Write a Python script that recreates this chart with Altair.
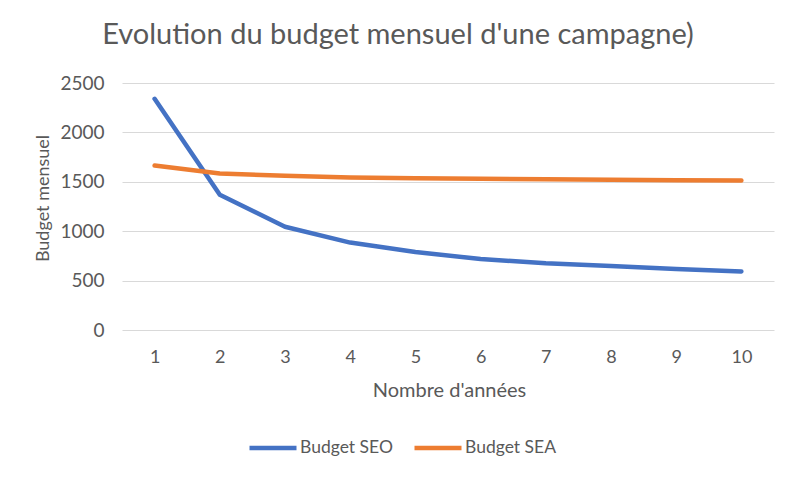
import altair as alt
import pandas as pd

annees = [1, 2, 3, 4, 5, 6, 7, 8, 9, 10]
budget_seo = [2340, 1370, 1045, 885, 790, 718, 675, 647, 617, 592]
budget_sea = [1665, 1585, 1560, 1543, 1537, 1530, 1525, 1520, 1516, 1513]
series = ["Budget SEO", "Budget SEA"]
colors = ["#4472C4", "#ED7D31"]
y_ticks = [0, 500, 1000, 1500, 2000, 2500]

rows = []
for name, vals in zip(series, [budget_seo, budget_sea]):
    for a, v in zip(annees, vals):
        rows.append({"annee": a, "budget": v, "serie": name})
df = pd.DataFrame(rows)

FONT = "Lato"
GRAY = "#595959"

chart = alt.Chart(df).mark_line(
    strokeWidth=4.5, strokeCap="round", strokeJoin="round"
).encode(
    x=alt.X(
        "annee:O",
        scale=alt.Scale(type="point", padding=0.5),
        axis=alt.Axis(
            title="Nombre d'années",
            labelAngle=0,
            grid=False,
            domain=False,
            ticks=False,
            tickSize=0,
            labelPadding=27,
            labelBaseline="middle",
            labelFontSize=18,
            labelFont=FONT,
            labelColor=GRAY,
            titleFont=FONT,
            titleColor=GRAY,
            titleFontSize=20,
            titleFontWeight="normal",
            titleX=327,
            titleY=60,
            titleBaseline="middle",
            titleAlign="center",
        ),
    ),
    y=alt.Y(
        "budget:Q",
        scale=alt.Scale(domain=[0, 2500], nice=False),
        axis=alt.Axis(
            title="Budget mensuel",
            values=y_ticks,
            format="d",
            grid=True,
            gridColor="#D9D9D9",
            gridWidth=1,
            domain=False,
            ticks=False,
            tickSize=0,
            labelPadding=18,
            labelFontSize=19,
            labelFont=FONT,
            labelColor=GRAY,
            titleFont=FONT,
            titleColor=GRAY,
            titleFontSize=18,
            titleFontWeight="normal",
            titleX=-79,
            titleY=115,
            titleAngle=270,
            titleAlign="center",
            titleBaseline="middle",
        ),
    ),
    color=alt.Color(
        "serie:N",
        sort=series,
        scale=alt.Scale(domain=series, range=colors),
        legend=alt.Legend(
            title=None,
            orient="none",
            direction="horizontal",
            legendX=125,
            legendY=339,
            symbolType="stroke",
            symbolSize=2209,
            symbolStrokeWidth=4.5,
            labelOffset=1,
            labelFontSize=17.5,
            labelColor=GRAY,
            labelFont=FONT,
            columnPadding=12,
        ),
    ),
).properties(
    width=652,
    height=247,
    title=alt.TitleParams(
        "Evolution du budget mensuel d'une campagne)",
        fontSize=29,
        font=FONT,
        fontWeight="normal",
        color=GRAY,
        anchor="middle",
        frame="group",
        baseline="alphabetic",
        offset=1,
        dx=-50,
    ),
    background="white",
    autosize=alt.AutoSizeParams(type="none"),
    padding={"left": 114, "top": 75, "right": 18, "bottom": 143},
).configure_view(
    stroke=None
)

chart.save("out.html", embed_options={"renderer": "svg", "actions": False})
